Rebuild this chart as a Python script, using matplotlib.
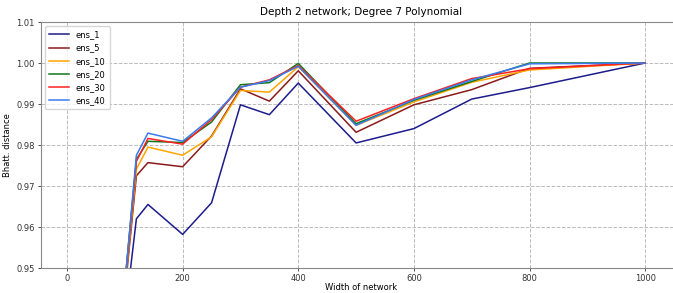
import matplotlib
matplotlib.use("Agg")
import matplotlib.pyplot as plt

widths = [100, 120, 140, 200, 250, 300, 350, 400, 500, 600, 700, 800, 1000]
ens_1 = [0.938, 0.962, 0.9655, 0.9582, 0.9659, 0.9898, 0.9874, 0.9951, 0.9805, 0.9840, 0.9912, 0.9940, 1.0]
ens_5 = [0.944, 0.9725, 0.9757, 0.9747, 0.9822, 0.9937, 0.9907, 0.9981, 0.9831, 0.9898, 0.9935, 0.9987, 1.0]
ens_10 = [0.945, 0.9741, 0.9795, 0.9775, 0.9820, 0.9933, 0.9929, 0.9991, 0.9848, 0.9905, 0.9953, 0.9983, 1.0]
ens_20 = [0.946, 0.9765, 0.9809, 0.9806, 0.9856, 0.9947, 0.9952, 0.9999, 0.9852, 0.9909, 0.9955, 1.0, 1.0]
ens_30 = [0.946, 0.9760, 0.9816, 0.9802, 0.9862, 0.9941, 0.9959, 0.9994, 0.9858, 0.9913, 0.9962, 0.9986, 1.0]
ens_40 = [0.946, 0.9775, 0.9829, 0.9809, 0.9866, 0.9941, 0.9957, 0.9992, 0.9848, 0.9911, 0.9959, 0.9998, 1.0]

series = [("ens_1", ens_1, "#1c1c8c"), ("ens_5", ens_5, "#8b1a1a"),
          ("ens_10", ens_10, "#ffa500"), ("ens_20", ens_20, "#11771c"),
          ("ens_30", ens_30, "#ff2020"), ("ens_40", ens_40, "#3a7af0")]

fig = plt.figure(figsize=(6.73, 2.93), dpi=100)
ax = fig.add_axes([41/673, 25/293, 640/673, 246/293])
for name, ys, c in series:
    ax.plot(widths, ys, color=c, lw=1.1, label=name)

ax.set_xlim(-45, 1062)
ax.set_ylim(0.95, 1.01)
ax.set_yticks([0.95, 0.96, 0.97, 0.98, 0.99, 1.00, 1.01])
ax.set_xticks([0, 200, 400, 600, 800, 1000])
ax.grid(True, linestyle='--', color='#bbbbbb', lw=0.7)
for s in ax.spines.values():
    s.set_color('#888888')
ax.tick_params(labelsize=6, colors='#333333', length=2.5, width=0.6, pad=2)
ax.tick_params(axis='x', pad=1.5)
ax.set_title("Depth 2 network; Degree 7 Polynomial", fontsize=7.5, pad=5)
ax.set_xlabel("Width of network", fontsize=6, labelpad=0.5)
ax.set_ylabel("Bhatt. distance", fontsize=6, labelpad=3)
ax.legend(loc='upper left', fontsize=6, frameon=True, handlelength=2.4,
          borderpad=0.5, labelspacing=0.5)
fig.savefig("out.png", dpi=100)
